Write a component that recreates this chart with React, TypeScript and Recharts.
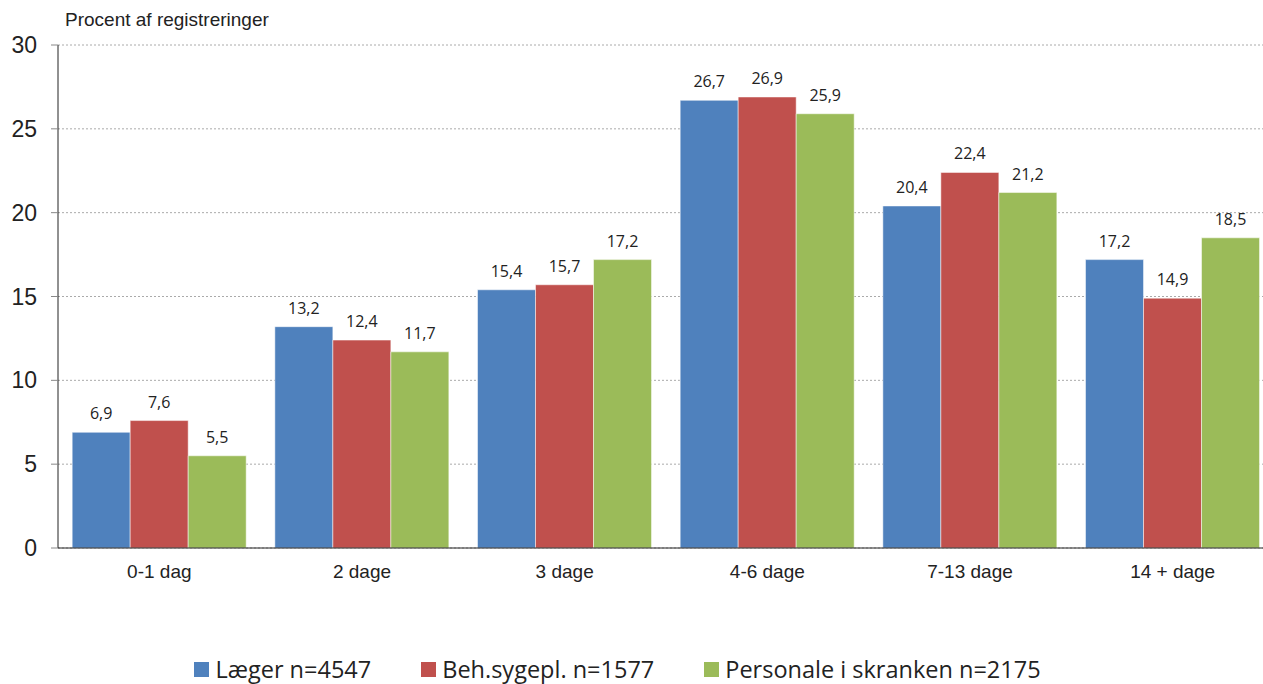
import React from "react";
import {
  BarChart,
  Bar,
  XAxis,
  YAxis,
  CartesianGrid,
  Legend,
  LabelList,
} from "recharts";

const categories = ["0-1 dag", "2 dage", "3 dage", "4-6 dage", "7-13 dage", "14 + dage"];
const laeger = [6.9, 13.2, 15.4, 26.7, 20.4, 17.2];
const behSygepl = [7.6, 12.4, 15.7, 26.9, 22.4, 14.9];
const personale = [5.5, 11.7, 17.2, 25.9, 21.2, 18.5];
const yTicks = [0, 5, 10, 15, 20, 25, 30];
const edgeTicks = [0, 1, 2, 3, 4, 5, 6];

const series = [
  { key: "laeger", name: "Læger n=4547", color: "#4F81BD" },
  { key: "beh", name: "Beh.sygepl. n=1577", color: "#C0504D" },
  { key: "pers", name: "Personale i skranken n=2175", color: "#9BBB59" },
];

const data = categories.map((c, i) => ({
  cat: c,
  laeger: laeger[i],
  beh: behSygepl[i],
  pers: personale[i],
}));

const fmt = (v: any) => Number(v).toFixed(1).replace(".", ",");

// legend is centred on the visible 1263px, not on the wider chart
const LegendContent = () => (
  <div
    style={{
      width: 1263,
      boxSizing: "border-box",
      display: "flex",
      justifyContent: "center",
      gap: 50,
      fontFamily: "'Open Sans', sans-serif",
      fontSize: 23.5,
      lineHeight: 1,
      color: "#222",
      paddingTop: 14,
      paddingRight: 28,
    }}
  >
    {series.map((s) => (
      <div key={s.key} style={{ display: "flex", alignItems: "center" }}>
        <span
          style={{
            width: 15,
            height: 15,
            background: s.color,
            display: "inline-block",
            marginRight: 6,
          }}
        />
        {s.name}
      </div>
    ))}
  </div>
);

export default function App() {
  return (
    <div
      style={{
        position: "absolute",
        left: 0,
        top: 0,
        width: 1263,
        height: 684,
        overflow: "hidden",
        background: "#fff",
      }}
    >
      <div
        style={{
          position: "absolute",
          left: 65,
          top: 9,
          fontFamily: "'Liberation Sans', Arial, sans-serif",
          fontSize: 19,
          color: "#222",
        }}
      >
        Procent af registreringer
      </div>
      <BarChart
        width={1274}
        height={684}
        data={data}
        margin={{ top: 45, right: 0, bottom: 0, left: 0 }}
        barCategoryGap="7%"
        barGap={0}
      >
        <CartesianGrid vertical={false} stroke="#aaa" strokeDasharray="2 2" />
        <XAxis
          xAxisId="edges"
          type="number"
          domain={[0, 6]}
          ticks={edgeTicks}
          height={0}
          tick={false}
          axisLine={false}
          tickLine={{ stroke: "#444" }}
          tickSize={7}
        />
        <XAxis
          dataKey="cat"
          height={96}
          tickLine={false}
          axisLine={{ stroke: "#222" }}
          tick={{ fontSize: 19, fill: "#222", fontFamily: "'Liberation Sans', Arial, sans-serif" }}
          tickMargin={11}
        />
        <YAxis
          width={58}
          domain={[0, 30]}
          ticks={yTicks}
          axisLine={{ stroke: "#222" }}
          tickLine={{ stroke: "#888" }}
          tickSize={7}
          tickMargin={14}
          tick={{ fontSize: 23, fill: "#222", fontFamily: "'Liberation Sans', Arial, sans-serif" }}
        />
        <Legend verticalAlign="bottom" align="left" height={40} content={<LegendContent />} />
        {series.map((s) => (
          <Bar
            key={s.key}
            dataKey={s.key}
            name={s.name}
            fill={s.color}
            stroke="#ffffff"
            strokeWidth={0.5}
            isAnimationActive={false}
          >
            <LabelList
              dataKey={s.key}
              position="top"
              offset={13}
              formatter={fmt}
              style={{ fontSize: 16, fill: "#222", fontFamily: "'Open Sans', sans-serif" }}
            />
          </Bar>
        ))}
      </BarChart>
    </div>
  );
}
